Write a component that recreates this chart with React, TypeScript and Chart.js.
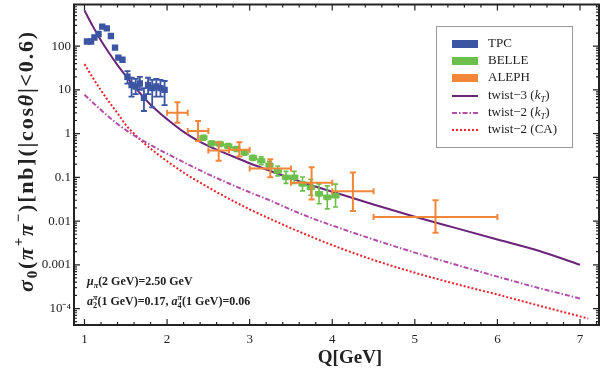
import React, { useEffect, useRef } from 'react';
import { Chart, registerables } from 'chart.js';
Chart.register(...registerables);

const FONT = '"Liberation Serif","Times New Roman",serif';

// ---- data: TPC ----
const tpcQ = [1.03, 1.08, 1.12, 1.17, 1.215, 1.27, 1.32, 1.37, 1.41, 1.46, 1.52, 1.57, 1.62, 1.67, 1.72, 1.77, 1.82, 1.87, 1.92, 1.97];
const tpcSig = [128, 128, 158, 190, 280, 256, 171, 93, 55, 49, 20, 13, 12, 14, 6.6, 13, 11, 12, 11, 10];
const tpcLo = [128, 128, 158, 190, 280, 256, 171, 93, 55, 49, 14, 7, 8, 10, 3.3, 8, 4, 7, 7, 4.5];
const tpcHi = [128, 128, 158, 190, 280, 256, 171, 93, 55, 49, 27, 19, 18, 20, 11, 19, 17, 18, 17, 16];

// ---- data: BELLE ----
const belleQ = [2.44, 2.54, 2.64, 2.74, 2.84, 2.94, 3.04, 3.14, 3.24, 3.34, 3.44, 3.54, 3.64, 3.74, 3.84, 3.94, 4.04];
const belleSig = [0.81, 0.6, 0.58, 0.52, 0.45, 0.37, 0.28, 0.24, 0.19, 0.14, 0.1, 0.1, 0.071, 0.059, 0.042, 0.035, 0.038];
const belleLo = [0.71, 0.53, 0.51, 0.46, 0.39, 0.32, 0.245, 0.195, 0.155, 0.108, 0.073, 0.073, 0.049, 0.039, 0.025, 0.019, 0.021];
const belleHi = [0.92, 0.68, 0.66, 0.59, 0.51, 0.42, 0.32, 0.295, 0.234, 0.182, 0.137, 0.137, 0.102, 0.09, 0.071, 0.064, 0.07];
const belleQLo = [2.4, 2.5, 2.6, 2.7, 2.8, 2.9, 3.0, 3.1, 3.2, 3.3, 3.4, 3.5, 3.6, 3.7, 3.8, 3.9, 4.0];
const belleQHi = [2.48, 2.58, 2.68, 2.78, 2.88, 2.98, 3.08, 3.18, 3.28, 3.38, 3.48, 3.58, 3.68, 3.78, 3.88, 3.98, 4.08];

// ---- data: ALEPH ----
const alephQ = [2.125, 2.375, 2.625, 2.875, 3.25, 3.75, 4.25, 5.25];
const alephQLo = [2.0, 2.25, 2.5, 2.75, 3.0, 3.5, 4.0, 4.5];
const alephQHi = [2.25, 2.5, 2.75, 3.0, 3.5, 4.0, 4.5, 6.0];
const alephSig = [3.0, 1.15, 0.41, 0.43, 0.16, 0.075, 0.048, 0.0124];
const alephLo = [1.78, 0.68, 0.24, 0.3, 0.1, 0.031, 0.017, 0.0054];
const alephHi = [5.2, 1.95, 0.63, 0.64, 0.26, 0.17, 0.13, 0.03];

// ---- curves ----
const tw3Q = [1.0, 1.1, 1.2, 1.3, 1.4, 1.5, 1.6, 1.7, 1.8, 1.9, 2.0, 2.2, 2.4, 2.6, 2.8, 3.0, 3.25, 3.5, 3.75, 4.0, 4.5, 5.0, 5.5, 6.0, 6.5, 7.0];
const tw3Sig = [660, 288, 135, 69, 37, 21, 12.3, 7.3, 4.6, 3.1, 2.15, 1.1, 0.65, 0.43, 0.3, 0.21, 0.14, 0.095, 0.066, 0.047, 0.024, 0.0126, 0.0069, 0.0038, 0.0021, 0.001];
const tw2kQ = [1.0, 1.2, 1.4, 1.6, 1.8, 2.0, 2.25, 2.5, 2.75, 3.0, 3.25, 3.5, 3.75, 4.0, 4.5, 5.0, 5.5, 6.0, 6.5, 7.0];
const tw2kSig = [7.76, 3.47, 1.66, 0.912, 0.55, 0.347, 0.2, 0.1175, 0.0724, 0.0457, 0.0295, 0.0182, 0.01175, 0.00794, 0.0038, 0.0019, 0.001, 0.000537, 0.000295, 0.00017];
const tw2caQ = [1.0, 1.1, 1.2, 1.3, 1.4, 1.5, 1.6, 1.7, 1.8, 1.9, 2.0, 2.25, 2.5, 2.75, 3.0, 3.25, 3.5, 3.75, 4.0, 4.5, 5.0, 5.5, 6.0, 6.5, 7.0, 7.1];
const tw2caSig = [38.9, 19.1, 9.77, 5.25, 2.95, 1.58, 1.0, 0.66, 0.457, 0.324, 0.234, 0.112, 0.0589, 0.0324, 0.0186, 0.0112, 0.0069, 0.00437, 0.00282, 0.00129, 0.00066, 0.000363, 0.000209, 0.000117, 0.0000661, 0.0000589];

// ---- axis ----
const xTicks = [1, 2, 3, 4, 5, 6, 7];
const yTickLabels: Record<string, string> = { '2': '100', '1': '10', '0': '1', '-1': '0.1', '-2': '0.01', '-3': '0.001', '-4': '10\u207B\u2074' };

const C_TPC = '#3b55a3';
const C_BELLE = '#6cbf4b';
const C_ALEPH = '#f2863a';
const C_TW3 = '#6a2479';
const C_TW2K = '#b04ea6';
const C_CA = '#e8232d';

const pts = (xs: number[], ys: number[]) => xs.map((x, i) => ({ x, y: ys[i] }));

type Piece = { t: string; i?: boolean; pos?: 'n' | 'sub' | 'sup'; stack?: boolean };

function pieceFont(p: Piece, size: number, bold: boolean) {
  const pos = p.pos || 'n';
  const fs = pos === 'n' ? size : size * 0.68;
  return `${p.i ? 'italic ' : ''}${bold ? 'bold ' : ''}${fs}px ${FONT}`;
}

function drawRich(ctx: CanvasRenderingContext2D, x: number, y: number, pieces: Piece[], size: number, bold: boolean, ls = 0) {
  let cx = x;
  let prevStart = x;
  let prevEnd = x;
  for (const p of pieces) {
    const pos = p.pos || 'n';
    const dy = pos === 'sub' ? size * 0.28 : pos === 'sup' ? -size * 0.38 : 0;
    ctx.font = pieceFont(p, size, bold);
    if (p.stack) cx = prevStart;
    const start = cx;
    for (const ch of p.t) {
      ctx.fillText(ch, cx, y + dy);
      cx += ctx.measureText(ch).width + ls;
    }
    if (p.stack) cx = Math.max(cx, prevEnd);
    prevStart = start;
    prevEnd = cx;
  }
  return cx - x;
}
function richWidth(ctx: CanvasRenderingContext2D, pieces: Piece[], size: number, bold: boolean) {
  let w = 0, n = 0;
  for (const p of pieces) {
    ctx.font = pieceFont(p, size, bold);
    for (const ch of p.t) { w += ctx.measureText(ch).width; n++; }
  }
  return { w, n };
}

type ErrSet = { x: number[]; y: number[]; xl?: number[]; xh?: number[]; yl?: number[]; yh?: number[]; color: string; lw: number; cap: number };
const errSets: ErrSet[] = [
  { x: tpcQ, y: tpcSig, yl: tpcLo, yh: tpcHi, color: C_TPC, lw: 1.8, cap: 3 },
  { x: belleQ, y: belleSig, xl: belleQLo, xh: belleQHi, yl: belleLo, yh: belleHi, color: C_BELLE, lw: 1.6, cap: 2.5 },
  { x: alephQ, y: alephSig, xl: alephQLo, xh: alephQHi, yl: alephLo, yh: alephHi, color: C_ALEPH, lw: 2, cap: 3 },
];

const deco = {
  id: 'deco',
  afterDatasetsDraw(chart: any) {
    const ctx: CanvasRenderingContext2D = chart.ctx;
    const xs = chart.scales.x, ys = chart.scales.y;
    ctx.save();
    for (const s of errSets) {
      ctx.strokeStyle = s.color;
      ctx.lineWidth = s.lw;
      ctx.beginPath();
      for (let i = 0; i < s.x.length; i++) {
        const px = xs.getPixelForValue(s.x[i]);
        const py = ys.getPixelForValue(s.y[i]);
        if (s.xl && s.xh) {
          const a = xs.getPixelForValue(s.xl[i]), b = xs.getPixelForValue(s.xh[i]);
          ctx.moveTo(a, py); ctx.lineTo(b, py);
          ctx.moveTo(a, py - s.cap); ctx.lineTo(a, py + s.cap);
          ctx.moveTo(b, py - s.cap); ctx.lineTo(b, py + s.cap);
        }
        if (s.yl && s.yh && s.yl[i] !== s.yh[i]) {
          const a = ys.getPixelForValue(s.yl[i]), b = ys.getPixelForValue(s.yh[i]);
          ctx.moveTo(px, a); ctx.lineTo(px, b);
          ctx.moveTo(px - s.cap, a); ctx.lineTo(px + s.cap, a);
          ctx.moveTo(px - s.cap, b); ctx.lineTo(px + s.cap, b);
        }
      }
      ctx.stroke();
    }
    ctx.restore();
  },
  afterDraw(chart: any) {
    const ctx: CanvasRenderingContext2D = chart.ctx;
    const { left, right, top, bottom } = chart.chartArea;
    const xs = chart.scales.x, ys = chart.scales.y;
    ctx.save();
    // ticks
    ctx.strokeStyle = '#222';
    ctx.lineWidth = 1.2;
    ctx.beginPath();
    for (let k = 4; k <= 36; k++) {
      const v = k * 0.2;
      const major = k % 5 === 0;
      const px = xs.getPixelForValue(v);
      if (px < left + 1 || px > right - 1) continue;
      const len = major ? 6 : 3;
      ctx.moveTo(px, bottom); ctx.lineTo(px, bottom - len);
      ctx.moveTo(px, top); ctx.lineTo(px, top + len);
    }
    for (let e = -5; e <= 2; e++) {
      for (let m = 1; m <= 9; m++) {
        const v = m * Math.pow(10, e);
        const py = ys.getPixelForValue(v);
        if (py < top + 1 || py > bottom - 1) continue;
        const len = m === 1 ? 6 : 3;
        ctx.moveTo(left, py); ctx.lineTo(left + len, py);
        ctx.moveTo(right, py); ctx.lineTo(right - len, py);
      }
    }
    ctx.stroke();
    // frame
    ctx.lineWidth = 2;
    ctx.strokeRect(left, top, right - left, bottom - top);

    ctx.fillStyle = '#222';
    ctx.textAlign = 'left';

    // x title
    ctx.font = `bold 19px ${FONT}`;
    ctx.textAlign = 'center';
    ctx.textBaseline = 'middle';
    ctx.fillText('Q[GeV]', 350, 358);
    ctx.textAlign = 'left';

    // y title
    const yt: Piece[] = [
      { t: '\u03C3', i: true }, { t: '0', pos: 'sub' }, { t: '(' }, { t: '\u03C0', i: true }, { t: '+', pos: 'sup' },
      { t: '\u03C0', i: true }, { t: '\u2212', pos: 'sup' }, { t: ')[nb](|cos' }, { t: '\u03B8', i: true }, { t: '|<0.6)' },
    ];
    const target = 260;
    const ysz = 22;
    const rw = richWidth(ctx, yt, ysz, true);
    const ls = Math.max(0, (target - rw.w) / (rw.n - 1));
    const tw = rw.w + ls * (rw.n - 1);
    ctx.save();
    ctx.translate(27, 162);
    ctx.rotate(-Math.PI / 2);
    ctx.textBaseline = 'middle';
    drawRich(ctx, -tw / 2, 0, yt, ysz, true, ls);
    ctx.restore();

    // annotations
    ctx.textBaseline = 'alphabetic';
    drawRich(ctx, 87, 285, [{ t: '\u03BC', i: true }, { t: '\u03C0', i: true, pos: 'sub' }, { t: '(2 GeV)=2.50 GeV' }], 12, true);
    drawRich(ctx, 87, 305, [
      { t: 'a', i: true }, { t: '2', pos: 'sub' }, { t: '\u03C0', i: true, pos: 'sup', stack: true }, { t: '(1 GeV)=0.17, ' },
      { t: 'a', i: true }, { t: '4', pos: 'sub' }, { t: '\u03C0', i: true, pos: 'sup', stack: true }, { t: '(1 GeV)=0.06' },
    ], 12, true);

    // legend
    ctx.fillStyle = '#fff';
    ctx.fillRect(436.5, 26.5, 136, 121);
    ctx.strokeStyle = '#999';
    ctx.lineWidth = 1;
    ctx.strokeRect(436.5, 26.5, 136, 121);
    const ly = [44, 61, 78, 96, 113, 130];
    const boxes = [C_TPC, C_BELLE, C_ALEPH];
    boxes.forEach((c, i) => { ctx.fillStyle = c; ctx.fillRect(452, ly[i] - 4, 26, 8); });
    const lines: [string, number[]][] = [[C_TW3, []], [C_TW2K, [5, 2, 1.5, 2]], [C_CA, [2, 2]]];
    lines.forEach(([c, d], j) => {
      ctx.strokeStyle = c; ctx.lineWidth = 2; ctx.setLineDash(d);
      ctx.beginPath(); ctx.moveTo(452, ly[3 + j]); ctx.lineTo(478, ly[3 + j]); ctx.stroke();
    });
    ctx.setLineDash([]);
    ctx.fillStyle = '#222';
    ctx.textBaseline = 'middle';
    const labels: Piece[][] = [
      [{ t: 'TPC' }], [{ t: 'BELLE' }], [{ t: 'ALEPH' }],
      [{ t: 'twist\u22123 (' }, { t: 'k', i: true }, { t: 'T', i: true, pos: 'sub' }, { t: ')' }],
      [{ t: 'twist\u22122 (' }, { t: 'k', i: true }, { t: 'T', i: true, pos: 'sub' }, { t: ')' }],
      [{ t: 'twist\u22122 (CA)' }],
    ];
    labels.forEach((l, i) => drawRich(ctx, 488, ly[i], l, 13, false));
    ctx.restore();
  },
};

export default function App() {
  const ref = useRef<HTMLCanvasElement>(null);
  useEffect(() => {
    const chart = new Chart(ref.current as HTMLCanvasElement, {
      type: 'scatter',
      data: {
        datasets: [
          { label: 'ALEPH', data: pts(alephQ, alephSig), pointRadius: 0, backgroundColor: C_ALEPH, borderColor: C_ALEPH, order: 1 },
          { label: 'BELLE', data: pts(belleQ, belleSig), pointStyle: 'rect', pointRadius: 4, backgroundColor: C_BELLE, borderColor: C_BELLE, borderWidth: 0, order: 2 },
          { label: 'TPC', data: pts(tpcQ, tpcSig), pointStyle: 'rect', pointRadius: 4.5, backgroundColor: C_TPC, borderColor: C_TPC, borderWidth: 0, order: 3 },
          { label: 'twist-3 (kT)', data: pts(tw3Q, tw3Sig), showLine: true, pointRadius: 0, borderColor: C_TW3, borderWidth: 2, cubicInterpolationMode: 'monotone', order: 4 } as any,
          { label: 'twist-2 (kT)', data: pts(tw2kQ, tw2kSig), showLine: true, pointRadius: 0, borderColor: C_TW2K, borderWidth: 2, borderDash: [5, 2, 1.5, 2], cubicInterpolationMode: 'monotone', order: 5 } as any,
          { label: 'twist-2 (CA)', data: pts(tw2caQ, tw2caSig), showLine: true, pointRadius: 0, borderColor: C_CA, borderWidth: 2, borderDash: [2, 2], cubicInterpolationMode: 'monotone', order: 6 } as any,
        ],
      },
      options: {
        responsive: false,
        animation: false,
        devicePixelRatio: 1,
        layout: { padding: { left: 0, top: 1, right: 15, bottom: 0 } },
        plugins: { legend: { display: false }, tooltip: { enabled: false } },
        scales: {
          x: {
            type: 'linear',
            min: 0.873,
            max: 7.23,
            afterFit: (s: any) => { s.height = 59; s.paddingLeft = 0; s.paddingRight = 0; },
            afterBuildTicks: (s: any) => { s.ticks = xTicks.map((v) => ({ value: v })); },
            grid: { display: false, drawTicks: false },
            border: { display: false },
            ticks: { font: { family: FONT, size: 13 }, color: '#222', padding: 7, autoSkip: false, maxRotation: 0 },
          },
          y: {
            type: 'logarithmic',
            min: 0.000042,
            max: 900,
            afterFit: (s: any) => { s.width = 74; s.paddingTop = 0; s.paddingBottom = 0; },
            grid: { display: false, drawTicks: false },
            border: { display: false },
            ticks: {
              font: { family: FONT, size: 13 },
              color: '#222',
              padding: 3,
              autoSkip: false,
              callback: (v: any) => {
                const l = Math.log10(Number(v));
                const r = Math.round(l);
                if (Math.abs(l - r) < 1e-6 && yTickLabels[String(r)]) return yTickLabels[String(r)];
                return '';
              },
            },
          },
        },
      },
      plugins: [deco],
    } as any);
    return () => chart.destroy();
  }, []);
  return (
    <div style={{ position: 'absolute', left: 0, top: 0, width: 614, height: 384, background: '#fff' }}>
      <canvas ref={ref} width={614} height={384} style={{ width: 614, height: 384, display: 'block' }} />
    </div>
  );
}
